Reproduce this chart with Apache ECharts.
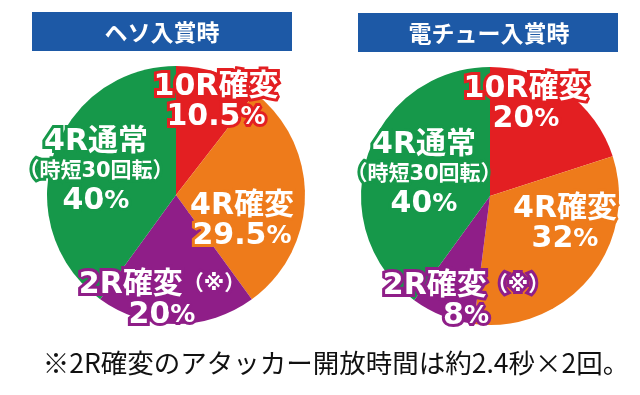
<!DOCTYPE html>
<html><head><meta charset="utf-8">
<script src="https://cdn.jsdelivr.net/npm/echarts@6/dist/echarts.min.js"></script>
<style>html,body{margin:0;padding:0;background:#fff;}#c{width:640px;height:395px;}</style>
</head><body><div id="c"></div>
<script>
// ---- data ----
const categories = ['10R確変', '4R確変', '2R確変', '4R通常'];
const categoryNotes = ['', '', '（※）', '（時短30回転）'];
const hesoValues = [10.5, 29.5, 20, 40];
const denchuValues = [20, 32, 8, 40];
const chartTitles = ['ヘソ入賞時', '電チュー入賞時'];
const footnote = '※2R確変のアタッカー開放時間は約2.4秒×2回。';

// ---- styles ----
const colors = ['#e31f22', '#ee7b1b', '#8f1e88', '#16984a'];
const FONT = '"Noto Sans CJK JP", "Noto Sans", sans-serif';
const LFONT = '"DejaVu Sans", "Noto Sans CJK JP", sans-serif';
const labelPos = [
  [[216, 102], [242, 221], [162, 300], [96, 172]],
  [[526, 104], [565, 224], [466, 301], [424, 175]]
];

function makeData(values) {
  return categories.map((c, i) => ({
    name: c, value: values[i],
    itemStyle: { color: colors[i] },
    label: { textBorderColor: colors[i] }
  }));
}
function fmt(p) {
  const i = p.dataIndex;
  const pct = '{a|' + p.value + '}{p|%}';
  if (i === 2) return '{a|' + p.name + '}{s|' + categoryNotes[i] + '}\n' + pct;
  if (i === 3) return '{a|' + p.name + '}\n{s|' + categoryNotes[i] + '}\n' + pct;
  return '{a|' + p.name + '}\n' + pct;
}
const richStyle = {
  a: { fontSize: 30, fontWeight: 'bold', fontFamily: LFONT, color: '#fff', lineHeight: 30 },
  p: { fontSize: 25, fontWeight: 'bold', fontFamily: LFONT, color: '#fff', lineHeight: 30 },
  s: { fontSize: 21, fontWeight: 'bold', fontFamily: LFONT, color: '#fff', lineHeight: 29 }
};
function makeSeries(values, center, k) {
  return {
    type: 'pie',
    center: center,
    radius: 129,
    startAngle: 90,
    clockwise: true,
    avoidLabelOverlap: false,
    silent: true,
    data: makeData(values),
    label: {
      show: true, position: 'inside', formatter: fmt,
      textBorderWidth: 6, rich: richStyle, align: 'center'
    },
    labelLine: { show: false },
    labelLayout: function (params) {
      const pt = labelPos[k][params.dataIndex];
      return { x: pt[0], y: pt[1], align: 'center', verticalAlign: 'middle' };
    }
  };
}

const chart = echarts.init(document.getElementById('c'), null, { renderer: 'canvas' });
chart.setOption({
  animation: false,
  backgroundColor: '#fff',
  series: [
    makeSeries(hesoValues, [176, 195], 0),
    makeSeries(denchuValues, [490, 196], 1)
  ],
  graphic: [
    { type: 'rect', shape: { x: 32, y: 12, width: 260, height: 39 }, style: { fill: '#1d59a6' } },
    { type: 'rect', shape: { x: 358, y: 13, width: 260, height: 39 }, style: { fill: '#1d59a6' } },
    { type: 'text', x: 162, y: 32, style: { text: chartTitles[0], fill: '#fff', font: 'bold 23px ' + FONT, textAlign: 'center', textVerticalAlign: 'middle' } },
    { type: 'text', x: 489, y: 33, style: { text: chartTitles[1], fill: '#fff', font: 'bold 23px ' + FONT, textAlign: 'center', textVerticalAlign: 'middle' } },
    { type: 'text', x: 336, y: 363, style: { text: footnote, fill: '#111', font: '26.5px ' + FONT, textAlign: 'center', textVerticalAlign: 'middle' } }
  ]
});
</script></body></html>
